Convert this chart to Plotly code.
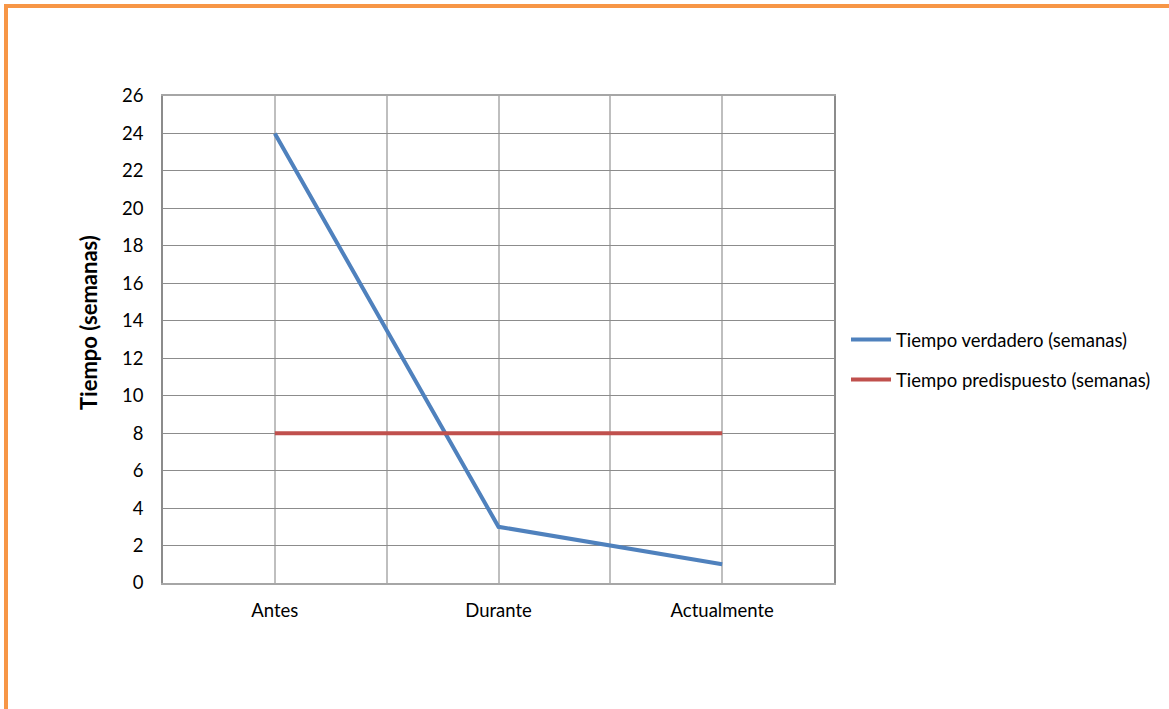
import plotly.graph_objects as go

categories = ["Antes", "Durante", "Actualmente"]
tiempo_verdadero = [24, 3, 1]
tiempo_predispuesto = [8, 8, 8]
y_ticks = list(range(0, 27, 2))

W, H = 1169, 709
L, R, T, B = 163, 335, 96, 126
pw, ph = W - L - R, H - T - B

def px_x(p):
    return (p - L) / pw

def px_y(p):
    return (H - B - p) / ph

xs = list(range(len(categories)))
FONT = "Lato, Calibri, Carlito, sans-serif"

fig = go.Figure()
fig.add_trace(go.Scatter(
    x=xs, y=tiempo_verdadero, mode="lines",
    name="Tiempo verdadero (semanas)", legendgroup="a",
    line=dict(color="#4F81BD", width=4),
))
fig.add_trace(go.Scatter(
    x=xs, y=tiempo_predispuesto, mode="lines",
    name="Tiempo predispuesto (semanas)", legendgroup="b",
    line=dict(color="#C0504D", width=4),
))

# category gridlines: one at each category and at each boundary
grid_vals = [i * 0.5 - 0.5 for i in range(2 * len(categories) + 1)]
grid_text = ["" if v != int(v) or v < 0 else categories[int(v)] for v in grid_vals]

fig.update_layout(
    width=W, height=H,
    margin=dict(l=L, r=R, t=T, b=B, autoexpand=False),
    paper_bgcolor="white", plot_bgcolor="white",
    font=dict(family=FONT, size=18, color="#000000"),
    showlegend=True,
    legend=dict(
        x=px_x(846), y=px_y(360), xanchor="left", yanchor="middle",
        font=dict(size=18.5), itemwidth=40, tracegroupgap=13,
        bgcolor="rgba(0,0,0,0)",
    ),
    xaxis=dict(
        range=[-0.5, len(categories) - 0.5],
        tickmode="array", tickvals=grid_vals, ticktext=grid_text,
        showgrid=True, gridcolor="#BFBFBF", gridwidth=1.5,
        showline=True, linecolor="#A6A6A6", linewidth=1.5, mirror=True,
        ticks="", ticklabelstandoff=10, zeroline=False,
        tickfont=dict(size=18.5),
    ),
    yaxis=dict(
        range=[0, 26], tickmode="array", tickvals=y_ticks,
        showgrid=True, gridcolor="#8C8C8C", gridwidth=1.2,
        showline=True, linecolor="#8C8C8C", linewidth=1.5, mirror=True,
        ticks="", ticklabelstandoff=14, zeroline=False,
        tickfont=dict(size=18.5),
    ),
    annotations=[dict(
        text="<b>Tiempo (semanas)</b>", textangle=-90,
        xref="paper", yref="paper", x=px_x(88), y=px_y(323),
        xanchor="center", yanchor="middle", showarrow=False,
        font=dict(size=22),
    )],
    shapes=[dict(
        type="rect", xref="paper", yref="paper",
        x0=px_x(6), x1=px_x(W + 20), y0=px_y(H + 20), y1=px_y(6),
        line=dict(color="#F79646", width=4), fillcolor="rgba(0,0,0,0)",
        layer="above",
    )],
)

fig.write_html("out.html")
